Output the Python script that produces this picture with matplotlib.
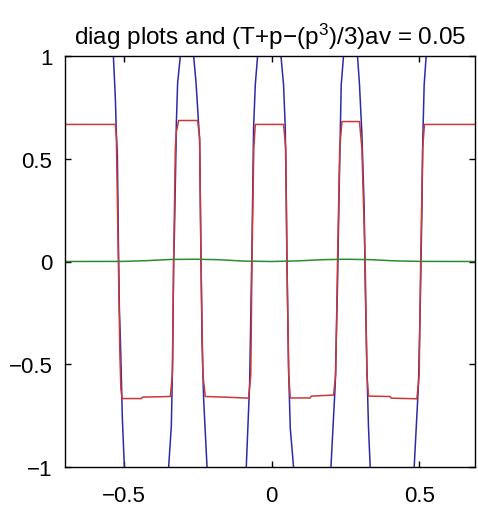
import matplotlib
matplotlib.use("Agg")
import matplotlib.pyplot as plt

plt.rcParams['font.family'] = ['Liberation Sans', 'DejaVu Sans']
plt.rcParams['mathtext.fontset'] = 'custom'
plt.rcParams['mathtext.rm'] = 'Liberation Sans'
plt.rcParams['mathtext.it'] = 'Liberation Sans'

# blue curve (p); goes beyond +-1 between transitions
blue_x = [-0.700, -0.600, -0.560, -0.5362, -0.5294, -0.5261, -0.5227, -0.5193, -0.5159,
          -0.5125, -0.5091, -0.5057, -0.4990, -0.4855, -0.4246, -0.3637,
          -0.3491, -0.3400, -0.3356, -0.3322, -0.3298, -0.3241, -0.3231, -0.3187, -0.3095,
          -0.2872, -0.2645, -0.2564, -0.2442, -0.2395, -0.2361, -0.2307, -0.2192,
          -0.2081, -0.1539, -0.0998,
          -0.0863, -0.0751, -0.0670, -0.0616, -0.0558, -0.0480, -0.0355, -0.0085, 0.0186,
          0.0311, 0.0399, 0.0457, 0.0491, 0.0514, 0.0568, 0.0626, 0.0737,
          0.0863, 0.1370, 0.1878,
          0.2003, 0.2148, 0.2226, 0.2284, 0.2317, 0.2351, 0.2429, 0.2666, 0.2902, 0.2970,
          0.3051, 0.3129, 0.3163, 0.3221, 0.3275, 0.3332,
          0.3467, 0.4076, 0.4685,
          0.4821, 0.4966, 0.5024, 0.5081, 0.5115, 0.5159, 0.5227, 0.5362, 0.5869, 0.690]
blue_y = [1.60, 1.40, 1.22, 1.00, 0.79, 0.62, 0.52, 0.10, -0.23,
          -0.38, -0.57, -0.77, -1.00, -1.28, -1.55, -1.28,
          -1.00, -0.80, -0.48, 0.00, 0.12, 0.56, 0.67, 0.87, 1.00,
          1.12, 1.00, 0.87, 0.59, 0.00, -0.38, -0.67, -1.00,
          -1.25, -1.50, -1.25,
          -1.00, -0.60, 0.07, 0.65, 0.86, 1.00, 1.20, 1.30, 1.20,
          1.00, 0.86, 0.65, 0.29, 0.00, -0.52, -0.81, -1.00,
          -1.25, -1.50, -1.25,
          -1.00, -0.60, -0.11, 0.37, 0.61, 0.86, 1.00, 1.12, 1.00, 0.86,
          0.62, 0.26, -0.11, -0.52, -0.81, -1.00,
          -1.25, -1.50, -1.25,
          -1.00, -0.60, -0.23, 0.24, 0.61, 0.86, 1.00, 1.25, 1.45, 1.60]

# red curve (p - p^3/3)
red_x = [-0.700, -0.5294, -0.5261, -0.5227, -0.5193, -0.5142, -0.5108, -0.5068,
         -0.4415, -0.4381, -0.3434,
         -0.3366, -0.3322, -0.3265, -0.3231, -0.3153, -0.2510, -0.2442, -0.2395, -0.2334, -0.2250,
         -0.1573, -0.0785,
         -0.0710, -0.0670, -0.0609, -0.0558, 0.0399, 0.0474, 0.0514, 0.0575, 0.0626,
         0.1302, 0.1336, 0.2091,
         0.2165, 0.2226, 0.2300, 0.2375, 0.2970, 0.3051, 0.3163, 0.3221, 0.3275,
         0.4009, 0.4043, 0.4912,
         0.4990, 0.5041, 0.5108, 0.5169, 0.690]
red_y = [0.667, 0.667, 0.60, 0.30, 0.00, -0.45, -0.62, -0.667,
         -0.667, -0.660, -0.657,
         -0.55, 0.00, 0.55, 0.63, 0.686, 0.686, 0.60, 0.00, -0.55, -0.657,
         -0.660, -0.665,
         -0.55, 0.00, 0.55, 0.667, 0.667, 0.55, 0.00, -0.55, -0.664,
         -0.664, -0.655, -0.650,
         -0.55, 0.00, 0.55, 0.681, 0.681, 0.55, 0.00, -0.55, -0.655,
         -0.657, -0.665, -0.668,
         -0.55, 0.00, 0.55, 0.667, 0.667]

# green curve (small average term)
green_x = [-0.70, -0.50, -0.4246, -0.3415, -0.26, -0.1843, -0.0947, 0.0, 0.0893, 0.1742, 0.25,
           0.3332, 0.4178, 0.50, 0.69]
green_y = [0.0, 0.0005, 0.004, 0.010, 0.011, 0.009, 0.002, 0.0, 0.003, 0.009, 0.011,
           0.009, 0.003, 0.0005, 0.0]

x_ticks = [-0.5, 0, 0.5]
y_ticks = [-1, -0.5, 0, 0.5, 1]

fig = plt.figure(figsize=(4.78, 5.10), dpi=100)
ax = fig.add_axes([65 / 478, 42 / 510, 410 / 478, 411 / 510])

ax.plot(blue_x, blue_y, color='#2b2ba8', linewidth=1.1)
ax.plot(red_x, red_y, color='#cc3838', linewidth=1.1)
ax.plot(green_x, green_y, color='#2f8a2f', linewidth=1.1)

ax.set_xlim(-0.70, 0.688)
ax.set_ylim(-1, 1)
ax.set_xticks(x_ticks)
ax.set_xticklabels(['\u22120.5', '0', '0.5'])
ax.set_yticks(y_ticks)
ax.set_yticklabels(['\u22121', '\u22120.5', '0', '0.5', '1'])
ax.tick_params(direction='in', top=True, right=True, length=4, width=1,
               labelsize=16, pad=9)
ax.tick_params(axis='x', pad=13)
for s in ax.spines.values():
    s.set_linewidth(1.0)

ax.set_title(r'diag plots and (T+p$-$(p$^{3}$)/3)av = 0.05', fontsize=17.5, pad=9)

fig.savefig('out.png', dpi=100)
